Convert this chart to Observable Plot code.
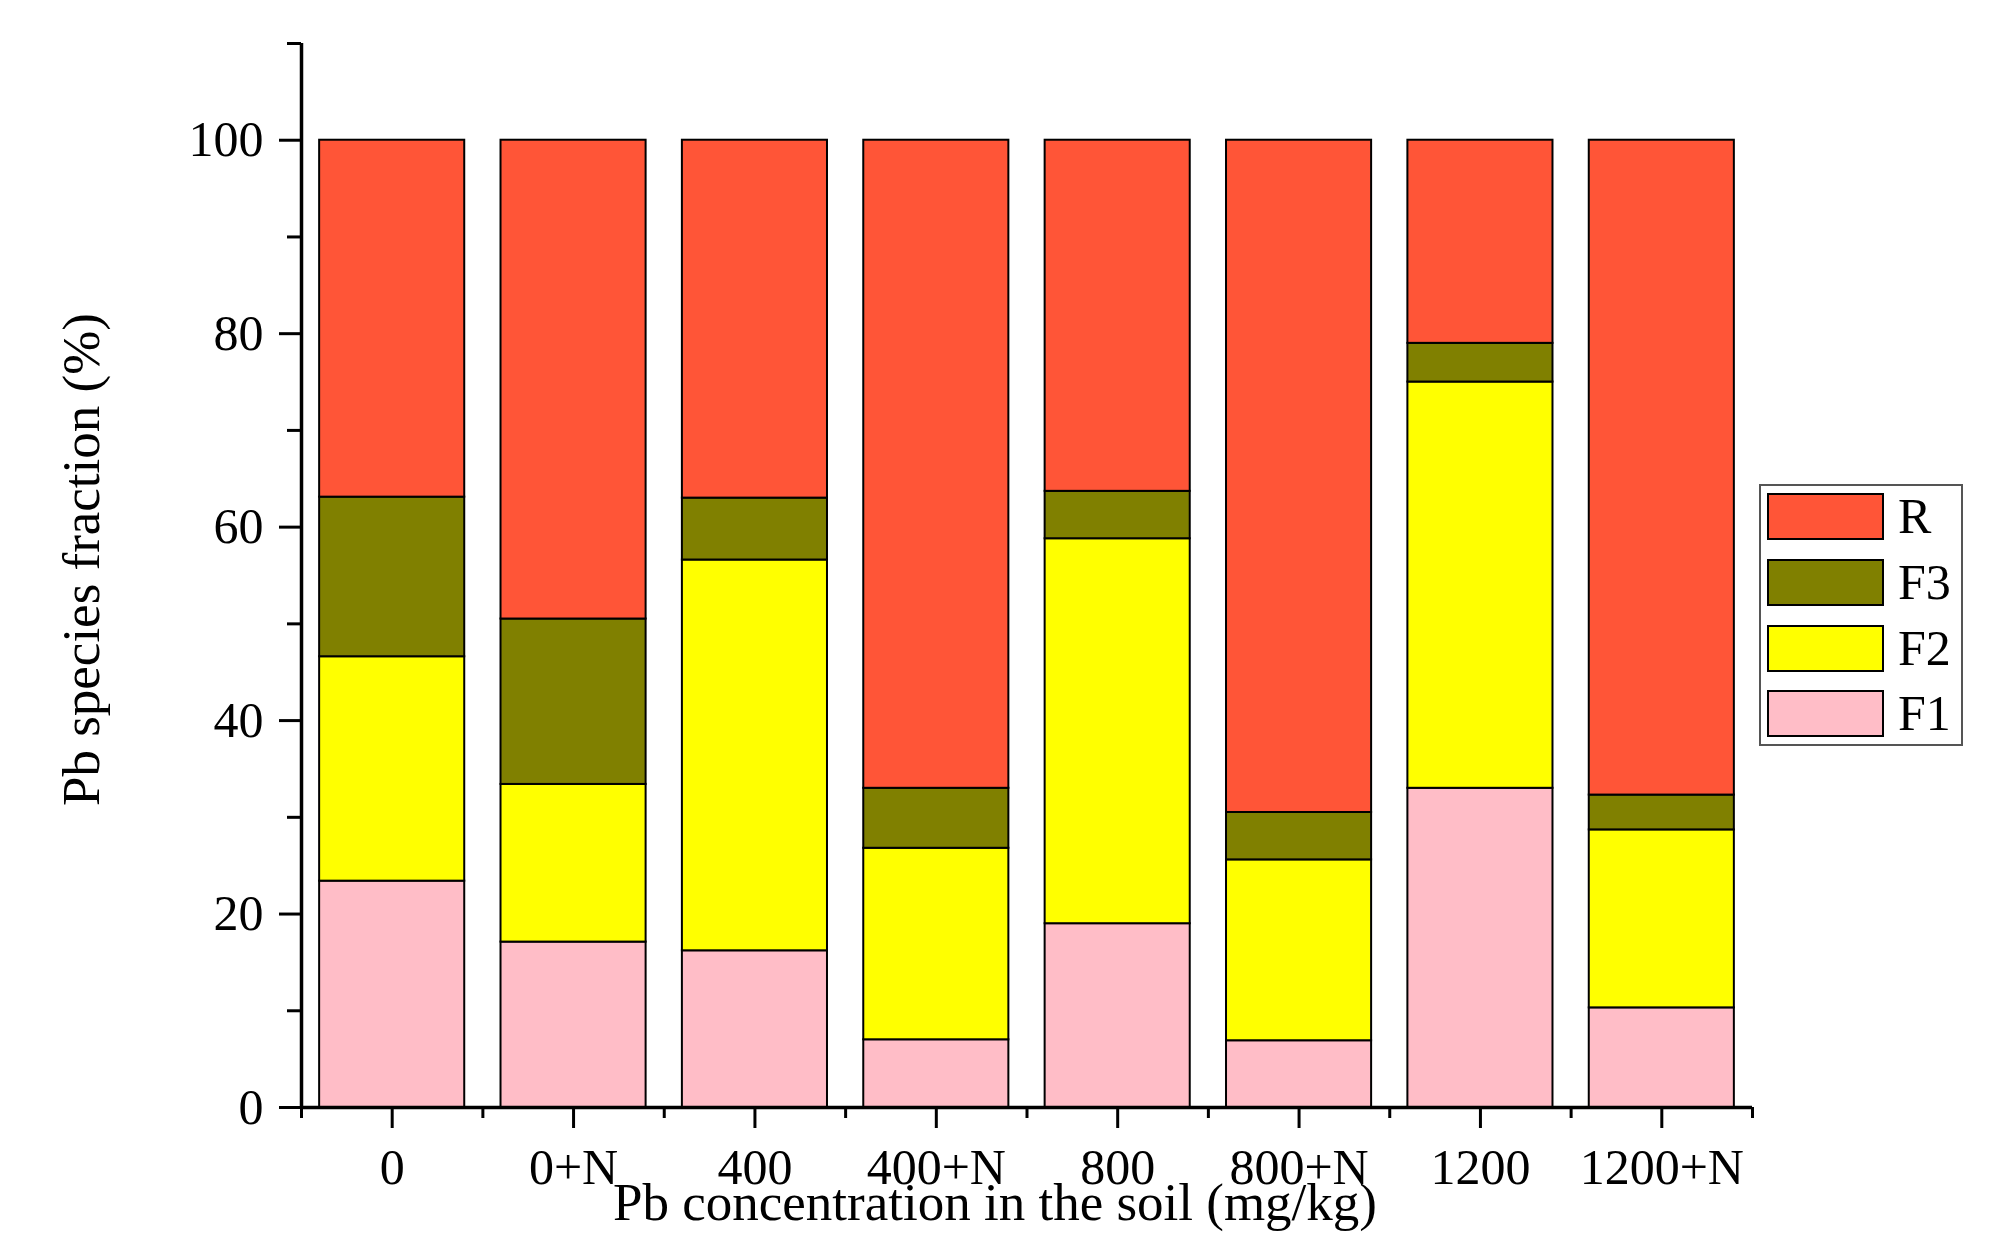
<!DOCTYPE html>
<html>
<head>
<meta charset="utf-8">
<script src="https://cdn.jsdelivr.net/npm/d3@7"></script>
<script src="https://cdn.jsdelivr.net/npm/@observablehq/plot@0.6"></script>
<style>
  html, body { margin: 0; padding: 0; background: #fff; }
  #wrap { position: relative; width: 1999px; height: 1257px; }
  #legend { position: absolute; left: 1759px; top: 484px; width: 200px; height: 258px;
            border: 2px solid #555; background: #fff; box-sizing: content-box;
            font-family: 'Liberation Serif', 'Times New Roman', serif; font-size: 50px; }
  .row { position: absolute; left: 6px; height: 47px; display: flex; align-items: center; }
  .sw { width: 113px; height: 43px; border: 2px solid #000; margin-right: 14px; }
  .lab { line-height: 47px; }
</style>
</head>
<body>
<div id="wrap"></div>
<script>
const categories = ["0", "0+N", "400", "400+N", "800", "800+N", "1200", "1200+N"];
const fractions = ["F1", "F2", "F3", "R"];
const F1 = [23.4, 17.1, 16.2, 7.0, 19.0, 6.9, 33.0, 10.3];
const F2 = [23.2, 16.3, 40.4, 19.8, 39.8, 18.7, 42.0, 18.4];
const F3 = [16.5, 17.1, 6.4, 6.2, 4.9, 4.9, 4.0, 3.6];
const R  = [36.9, 49.5, 37.0, 67.0, 36.3, 69.5, 21.0, 67.7];
const colors = {F1: "#FFBDC7", F2: "#FFFF00", F3: "#808000", R: "#FF5537"};
const yMajor = [0, 20, 40, 60, 80, 100];
const yMinor = [10, 30, 50, 70, 90, 110];

const series = {F1, F2, F3, R};
const rows = [];
categories.forEach((c, i) => {
  let acc = 0;
  fractions.forEach(f => {
    const v = series[f][i];
    rows.push({i, cat: c, fraction: f, y1: acc, y2: acc + v});
    acc += v;
  });
});
const centers = categories.map((c, i) => i + 0.5);
const bounds = d3.range(0, categories.length + 1);

const font = "'Liberation Serif', 'Times New Roman', serif";

const chart = Plot.plot({
  width: 1999,
  height: 1257,
  marginLeft: 301,
  marginRight: 247,
  marginTop: 43,
  marginBottom: 150,
  style: {fontFamily: font, fontSize: "48px", background: "#fff", color: "#000", overflow: "visible"},
  x: {domain: [0, categories.length], axis: null},
  y: {domain: [0, 110], axis: null},
  color: {domain: fractions, range: fractions.map(f => colors[f])},
  marks: [
    Plot.rect(rows, {x1: d => d.i + 0.1, x2: d => d.i + 0.9, y1: "y1", y2: "y2",
      fill: "fraction", stroke: "#000", strokeWidth: 2}),
    Plot.axisY({ticks: yMajor, tickSize: 22, tickPadding: 16, strokeWidth: 3,
      fontSize: 50, label: null, tickFormat: d => String(d)}),
    Plot.axisY({ticks: yMinor, tickSize: 14, strokeWidth: 3, label: null, tickFormat: () => ""}),
    Plot.axisX({ticks: centers, tickSize: 21, tickPadding: 20, strokeWidth: 3,
      fontSize: 50, label: null, tickFormat: d => categories[Math.round(d - 0.5)]}),
    Plot.axisX({ticks: bounds, tickSize: 11, strokeWidth: 3, label: null, tickFormat: () => ""}),
    Plot.ruleX([0], {y1: 0, y2: 110, strokeWidth: 3.5}),
    Plot.ruleY([0], {x1: 0, x2: categories.length, strokeWidth: 3.5}),
    Plot.text(["Pb species fraction (%)"], {frameAnchor: "left", textAnchor: "middle", rotate: -90,
      dx: -219, dy: -16, fontSize: 53, fill: "#000"}),
    Plot.text(["Pb concentration in the soil (mg/kg)"], {frameAnchor: "bottom", dx: -32, dy: 112,
      fontSize: 53, fill: "#000"})
  ]
});
document.getElementById("wrap").appendChild(chart);

// legend
const legend = document.createElement("div");
legend.id = "legend";
const tops = [7, 73, 139, 204];
["R", "F3", "F2", "F1"].forEach((f, k) => {
  const row = document.createElement("div");
  row.className = "row";
  row.style.top = tops[k] + "px";
  const sw = document.createElement("div");
  sw.className = "sw";
  sw.style.background = colors[f];
  const lab = document.createElement("span");
  lab.className = "lab";
  lab.textContent = f;
  row.appendChild(sw);
  row.appendChild(lab);
  legend.appendChild(row);
});
document.getElementById("wrap").appendChild(legend);
</script>
</body>
</html>
